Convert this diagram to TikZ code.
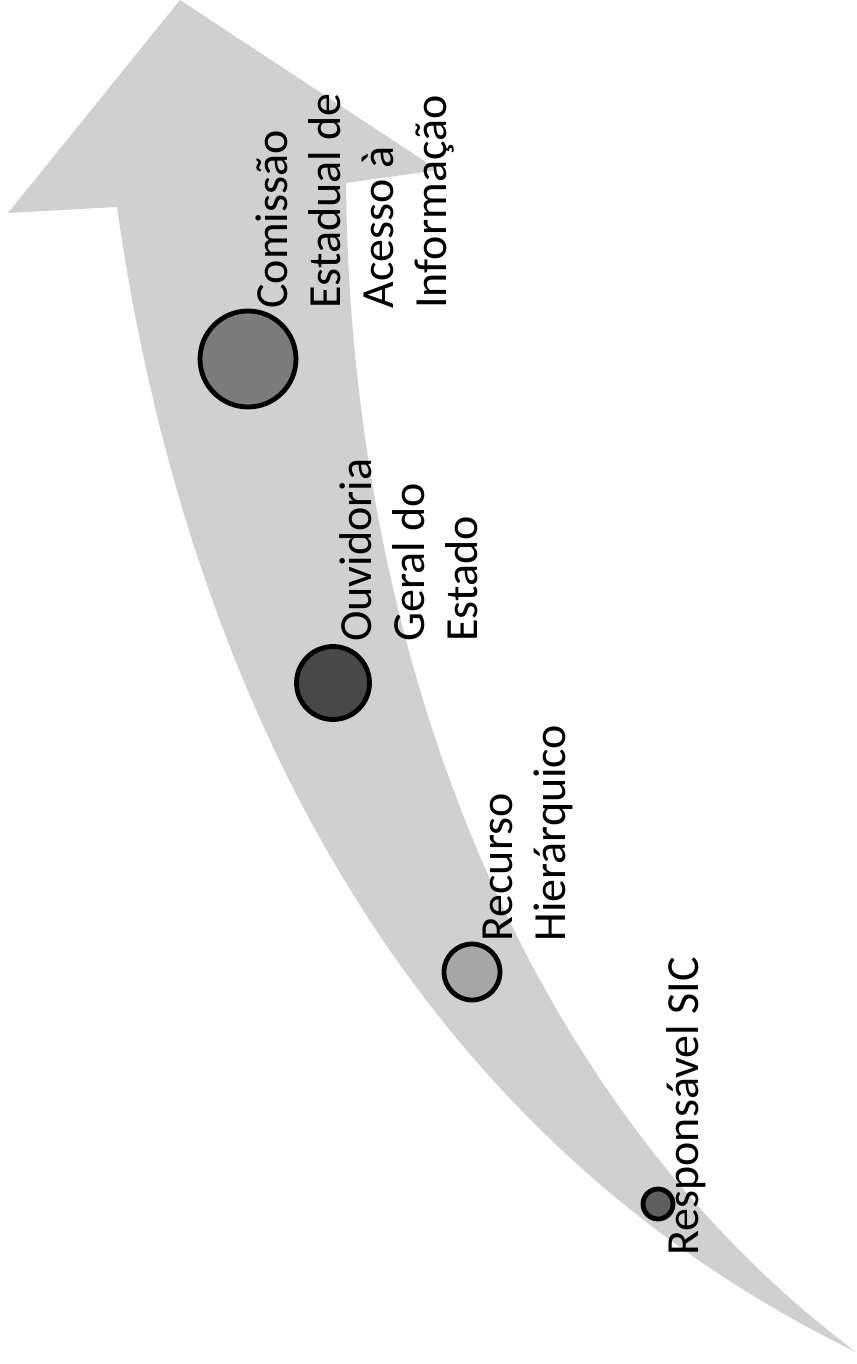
\documentclass[tikz,border=0pt]{standalone}
\usepackage{fontspec}
\setmainfont{Carlito}
\usetikzlibrary{positioning}
\definecolor{arrowgray}{RGB}{208,208,208}
\definecolor{dotA}{RGB}{123,123,123}
\definecolor{dotB}{RGB}{72,72,72}
\definecolor{dotC}{RGB}{166,166,166}
\definecolor{dotD}{RGB}{94,94,94}

\begin{document}
\begin{tikzpicture}[x=0.5pt,y=-0.5pt,
    dot/.style={circle,draw=black,line width=2.4pt,inner sep=0pt},
    lbl/.style={rotate=90,anchor=base west,align=left,inner sep=0pt,
      font={\fontsize{23}{26.5}\selectfont}}]
    \useasboundingbox (0,0) rectangle (856,1364);
    % Curved arrow
    \fill[arrowgray] (180,0) -- (438,170) -- (346,183)
      .. controls (350,650) and (520,1100) .. (856,1352)
      .. controls (380,1120) and (180,650) .. (117,207)
      -- (8,213) -- cycle;
    % Steps
    \node[dot,fill=dotA,minimum size=48pt] (d1) at (248,359) {};
    \node[dot,fill=dotB,minimum size=36.5pt] (d2) at (333,683) {};
    \node[dot,fill=dotC,minimum size=28pt] (d3) at (472,972) {};
    \node[dot,fill=dotD,minimum size=15pt] (d4) at (658,1204) {};
    % Labels (anchored on the baseline of the last line)
    \node[lbl] (t1) at (446,309) {Comissão\\Estadual de\\Acesso à\\Informação};
    \node[lbl] (t2) at (477,642) {Ouvidoria\\Geral do\\Estado};
    \node[lbl] (t3) at (565,942) {Recurso\\Hierárquico};
    \node[lbl] (t4) at (698,1256) {Responsável SIC};
  \end{tikzpicture}
\end{document}
